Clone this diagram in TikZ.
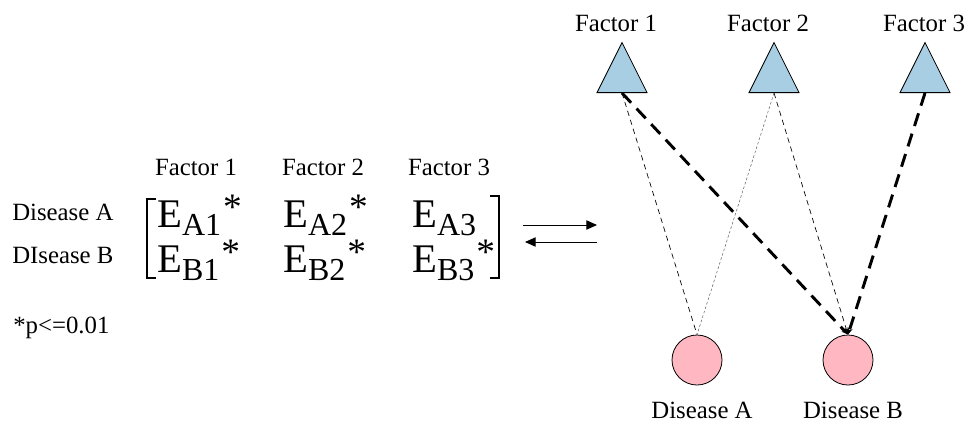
\documentclass[tikz,border=0pt]{standalone}
\usepackage{fontspec}
\setmainfont{Liberation Serif}
\usepackage{xcolor}
\usepackage{tikz}
\usetikzlibrary{shapes.geometric, arrows.meta}

\definecolor{factorblue}{RGB}{168,206,228}
\definecolor{diseasepink}{RGB}{255,183,193}
\newcommand{\ent}[3]{E\raisebox{-6.5pt}{\fontsize{24}{24}\selectfont #1#2}\hspace{1.5pt}\raisebox{6pt}{\fontsize{28}{28}\selectfont #3}}

\begin{document}
\begin{tikzpicture}[
        x=0.75pt, y=-0.75pt,
        txt/.style={inner sep=0pt, font=\rmfamily\fontsize{18.6}{22}\selectfont},
        entry/.style={inner sep=0pt, anchor=base west, font=\rmfamily\fontsize{30.5}{32}\selectfont},
        factor/.style={isosceles triangle, isosceles triangle stretches, shape border rotate=90,
                       minimum width=37.5pt, minimum height=37.5pt, inner sep=0pt,
                       draw, line width=0.6pt, fill=factorblue, anchor=south},
        disease/.style={circle, draw, line width=0.6pt, fill=diseasepink,
                        minimum size=37.5pt, inner sep=0pt},
        weak/.style={line width=0.5pt, dash pattern=on 4pt off 3pt},
        faint/.style={black!60, line width=0.4pt, dash pattern=on 2pt off 1.5pt},
        strong/.style={line width=2.2pt, dash pattern=on 10pt off 6pt},
        tip/.style={-{Stealth[length=5pt, width=4pt]}},
        swap/.style={-{Triangle[length=8pt, width=7pt]}, line width=0.7pt},
    ]
        \useasboundingbox (0,0) rectangle (967,422);

        % matrix side
        \node[txt, anchor=base] (h1) at (196,175) {Factor 1};
        \node[txt, anchor=base] (h2) at (323,175) {Factor 2};
        \node[txt, anchor=base] (h3) at (449,175) {Factor 3};
        \node[txt, anchor=base west] (rA) at (12,220) {Disease A};
        \node[txt, anchor=base west] (rB) at (12,263) {DIsease B};
        \node[txt, anchor=base west] (note) at (13,333) {*p<=0.01};

        \node[entry] (eA1) at (157,227) {\ent{A}{1}{*}};
        \node[entry] (eA2) at (283,227) {\ent{A}{2}{*}};
        \node[entry] (eA3) at (412,227) {\ent{A}{3}{}};
        \node[entry] (eB1) at (157,272) {\ent{B}{1}{*}};
        \node[entry] (eB2) at (283,272) {\ent{B}{2}{*}};
        \node[entry] (eB3) at (412,272) {\ent{B}{3}{*}};

        \draw[line width=1.6pt] (156,199) -| (147,278) -- (156,278);
        \draw[line width=1.6pt] (490,196) -| (499,278) -- (490,278);

        \coordinate (s1) at (523,225);
        \coordinate (s2) at (597,225);
        \coordinate (s3) at (597,242);
        \coordinate (s4) at (525,242);
        \draw[swap] (s1) -- (s2);
        \draw[swap] (s3) -- (s4);

        % network side
        \node[factor] (f1) at (622,93) {};
        \node[factor] (f2) at (774,93) {};
        \node[factor] (f3) at (925,93) {};
        \node[txt, anchor=base] (l1) at (616,31) {Factor 1};
        \node[txt, anchor=base] (l2) at (768,31) {Factor 2};
        \node[txt, anchor=base] (l3) at (924,31) {Factor 3};

        \node[disease] (dA) at (697,360) {};
        \node[disease] (dB) at (848,360) {};
        \node[txt, anchor=base] (lA) at (702,418) {Disease A};
        \node[txt, anchor=base] (lB) at (853,418) {Disease B};

        \draw[weak] (f1.south) -- (dA.north);
        \draw[faint] (f2.south) -- (dA.north);
        \draw[weak, tip] (f2.south) -- (dB.north);
        \draw[strong, tip] (f1.south) -- (dB.north);
        \draw[strong, tip] (f3.south) -- (dB.north);
    \end{tikzpicture}
\end{document}
